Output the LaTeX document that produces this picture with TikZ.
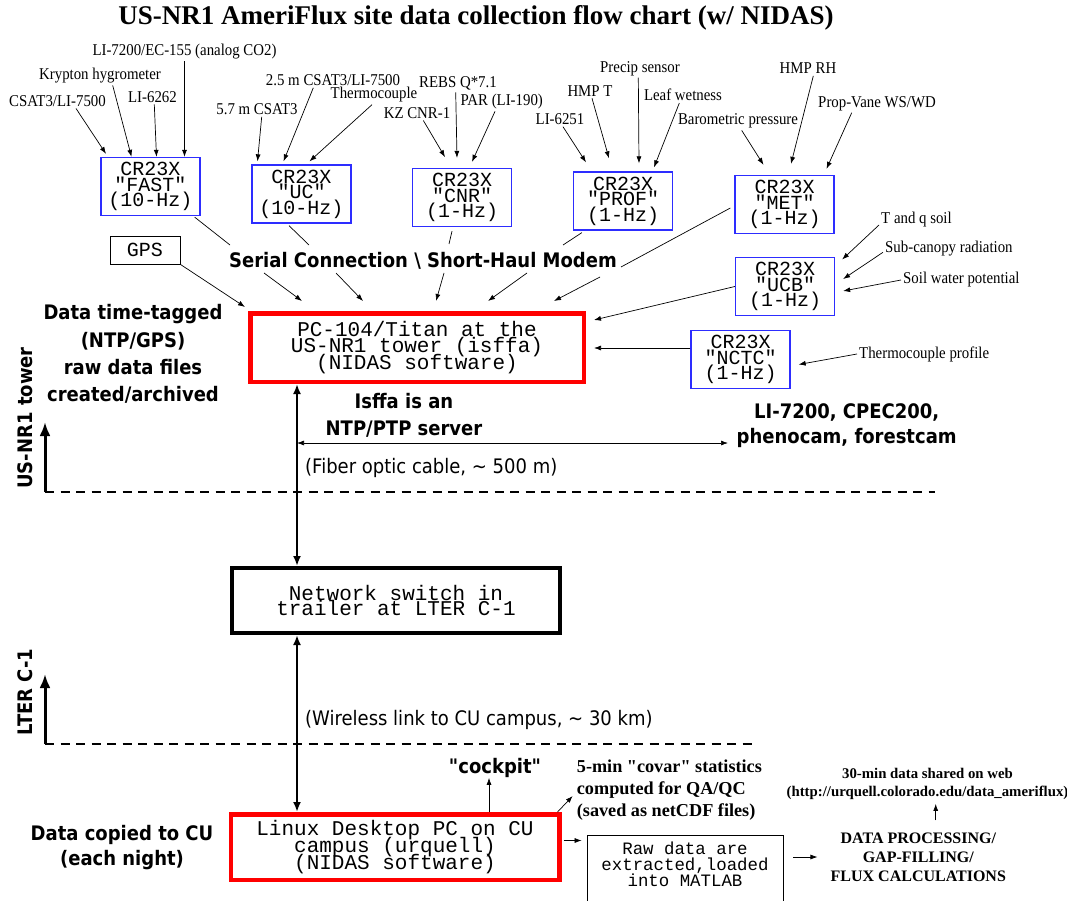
\documentclass[tikz,border=0pt]{standalone}
\usepackage{fontspec}
\setmainfont{Liberation Serif}[Ligatures=TeXOff]
\newfontfamily\boxfont{Liberation Mono}[Ligatures=TeXOff]
\newfontfamily\notefont{DejaVu Sans}[FakeStretch=0.9, Ligatures=TeXOff]
\newfontfamily\sensorfont{Liberation Serif}[FakeStretch=0.9, Ligatures=TeXOff]
\usetikzlibrary{arrows.meta}
\definecolor{loggerblue}{RGB}{45,45,255}

\begin{document}
\lineskiplimit=-30pt
\begin{tikzpicture}[
    x=1pt, y=-1pt,
    logger/.style={rectangle, draw=loggerblue, line width=1.3pt, minimum width=99pt, minimum height=58pt, inner sep=0pt, align=center,
        font=\boxfont\fontsize{20}{15.6}\selectfont},
    hub/.style={rectangle, draw=red, line width=4.5pt, inner sep=0pt, align=center,
        font=\boxfont\fontsize{21}{16.6}\selectfont},
    sensor/.style={font=\sensorfont\fontsize{16.5}{18}\selectfont, inner sep=2pt},
    note/.style={font=\notefont\bfseries\fontsize{20}{27}\selectfont, align=center, inner sep=0pt},
    remark/.style={font=\notefont\fontsize{20}{24}\selectfont, inner sep=0pt},
    feed/.style={-{Latex[length=7pt,width=5pt]}, line width=0.7pt},
    wire/.style={line width=0.7pt},
    link/.style={{Latex[length=10pt,width=8pt]}-{Latex[length=10pt,width=8pt]}, line width=2pt},
    zone/.style={-{Latex[length=14pt,width=11pt]}, line width=3pt},
    divider/.style={line width=2pt, dash pattern=on 9pt off 6.5pt}
]
    \useasboundingbox (0,0) rectangle (1067,901);
    \fill[white] (0,0) rectangle (1067,901);

    % Title
    \node[font=\bfseries\fontsize{27}{30}\selectfont] (title) at (476,18) {US-NR1 AmeriFlux site data collection flow chart (w/ NIDAS)};

    % Data loggers on the tower
    \node[logger] (fast) at (150.5,186.5) {CR23X\\"FAST"\\(10-Hz)};
    \node[logger] (uc) at (301.5,194) {CR23X\\"UC"\\(10-Hz)};
    \node[logger] (cnr) at (462,197.5) {CR23X\\"CNR"\\(1-Hz)};
    \node[logger] (prof) at (623,201) {CR23X\\"PROF"\\(1-Hz)};
    \node[logger] (met) at (784.5,204.5) {CR23X\\"MET"\\(1-Hz)};
    \node[logger] (ucb) at (785,286.5) {CR23X\\"UCB"\\(1-Hz)};
    \node[logger] (nctc) at (740.5,359.5) {CR23X\\"NCTC"\\(1-Hz)};

    % Sensors
    \node[sensor] (csat) at (57.5,100.7) {CSAT3/LI-7500};
    \node[sensor] (krypton) at (100,75.7) {Krypton hygrometer};
    \node[sensor] (li6262) at (152.5,96.7) {LI-6262};
    \node[sensor] (li7200) at (184.5,51.7) {LI-7200/EC-155 (analog CO2)};
    \node[sensor] (csatlow) at (257,109) {5.7 m CSAT3};
    \node[sensor] (csathigh) at (333,80) {2.5 m CSAT3/LI-7500};
    \node[sensor] (tcouple) at (374,95) {Thermocouple};
    \node[sensor] (kzcnr) at (417,112.7) {KZ CNR-1};
    \node[sensor] (rebs) at (458,83.3) {REBS Q*7.1};
    \node[sensor] (par) at (501.7,101.7) {PAR (LI-190)};
    \node[sensor] (li6251) at (560,119) {LI-6251};
    \node[sensor] (hmpt) at (590,90.7) {HMP T};
    \node[sensor] (precip) at (640,68.3) {Precip sensor};
    \node[sensor] (leaf) at (683,95) {Leaf wetness};
    \node[sensor] (baro) at (738,121) {Barometric pressure};
    \node[sensor] (hmprh) at (808,68.3) {HMP RH};
    \node[sensor] (propvane) at (877,103.3) {Prop-Vane WS/WD};
    \node[sensor, anchor=west] (soiltq) at (879,220) {T and q soil};
    \node[sensor, anchor=west] (subcan) at (883,248.3) {Sub-canopy radiation};
    \node[sensor, anchor=west] (soilwp) at (901,280) {Soil water potential};
    \node[sensor, anchor=west] (tprofile) at (857,354) {Thermocouple profile};

    % Sensor leads
    \draw[feed] ([xshift=18.5pt]csat.south) -- ([shift={(-44.5,-3)}]fast.north);
    \draw[feed] ([xshift=12.7pt]krypton.south) -- ([xshift=-19pt]fast.north);
    \draw[feed] ([xshift=1.8pt]li6262.south) -- ([xshift=6pt]fast.north);
    \draw[feed] (li7200.south) -- ([xshift=34pt]fast.north);
    \draw[feed] ([xshift=4.7pt]csatlow.south) -- ([shift={(-44,-3)}]uc.north);
    \draw[feed] ([xshift=-19.7pt]csathigh.south) -- ([shift={(-18,-3)}]uc.north);
    \draw[feed] ([xshift=-2pt]tcouple.south) -- ([shift={(8,-3)}]uc.north);
    \draw[feed] ([xshift=6.3pt]kzcnr.south) -- ([shift={(-17,-10.7)}]cnr.north);
    \draw[feed] ([xshift=-2.3pt]rebs.south) -- ([shift={(-5,-10)}]cnr.north);
    \draw[feed] ([xshift=-6.7pt]par.south) -- ([shift={(10,-6)}]cnr.north);
    \draw[feed] ([xshift=3pt]li6251.south) -- ([shift={(-37,-9)}]prof.north);
    \draw[feed] ([xshift=2pt]hmpt.south) -- ([shift={(-14,-13)}]prof.north);
    \draw[feed] ([xshift=-1.7pt]precip.south) -- ([shift={(16,-8)}]prof.north);
    \draw[feed] ([xshift=-3.7pt]leaf.south) -- ([shift={(31,-4)}]prof.north);
    \draw[feed] ([xshift=3.7pt]baro.south) -- ([shift={(-21,-10)}]met.north);
    \draw[feed] ([xshift=5.3pt]hmprh.south) -- ([shift={(6.5,-11)}]met.north);
    \draw[feed] ([xshift=-25.3pt]propvane.south) -- ([shift={(42,-6)}]met.north);
    \draw[feed] ([yshift=-5pt]soiltq.west) -- ([shift={(7,-27)}]ucb.east);
    \draw[feed] ([yshift=-4pt]subcan.west) -- ([shift={(8,-7.5)}]ucb.east);
    \draw[feed] (soilwp.west) -- ([shift={(8,4.5)}]ucb.east);
    \draw[feed] (tprofile.west) -- ([shift={(8,5)}]nctc.east);

    % Tower computer
    \node[hub, minimum width=333.5pt, minimum height=68.5pt] (tower) at (417,347.5) {PC-104/Titan at the\\US-NR1 tower (isffa)\\(NIDAS software)};
    \node[rectangle, draw, line width=0.8pt, minimum width=70pt, minimum height=28pt, inner sep=0pt,
        font=\boxfont\fontsize{20}{20}\selectfont] (gps) at (145,250) {GPS};

    % Serial links
    \node[note] (serial) at (423,261) {Serial Connection \textbackslash{} Short-Haul Modem};
    \coordinate (tapfast) at (230,245);
    \coordinate (tapuc) at (309,245);
    \coordinate (tapcnr) at (449,244);
    \coordinate (tapprof) at (563,245);
    \coordinate (tapmet) at (621,267);
    \coordinate (out1) at (264,273);
    \coordinate (out2) at (336,273);
    \coordinate (out3) at (444,273);
    \coordinate (out4) at (527,273);
    \coordinate (out5) at (600,277);
    \draw[wire] ([shift={(-6,1)}]fast.south east) -- (tapfast);
    \draw[wire] ([shift={(-12.5,2)}]uc.south) -- (tapuc);
    \draw[wire] ([shift={(-10,4)}]cnr.south) -- (tapcnr);
    \draw[wire] ([shift={(9,2)}]prof.south west) -- (tapprof);
    \draw[wire] ([shift={(-4,3.5)}]met.west) -- (tapmet);
    \draw[feed] (out1) -- ([shift={(-115,-10)}]tower.north);
    \draw[feed] (out2) -- ([shift={(-54,-10)}]tower.north);
    \draw[feed] (out3) -- ([shift={(19,-10)}]tower.north);
    \draw[feed] (out4) -- ([shift={(71,-10)}]tower.north);
    \draw[feed] (out5) -- ([shift={(137,-10)}]tower.north);
    \draw[feed] (gps.south east) -- ([shift={(-3,-4)}]tower.north west);
    \draw[feed] (ucb.west) -- ([shift={(8,9)}]tower.north east);
    \draw[feed] ([yshift=11.5pt]nctc.west) -- ([shift={(8,0.5)}]tower.east);

    % Notes round the tower
    \node[note, font=\notefont\bfseries\fontsize{20}{27.3}\selectfont] (stamp) at (133,354) {Data time-tagged\\(NTP/GPS)\\raw data files\\created/archived};
    \node[note] (ntp) at (404,415.5) {Isffa is an\\NTP/PTP server};
    \node[note, font=\notefont\bfseries\fontsize{20}{25}\selectfont] (cams) at (846.7,425.5) {LI-7200, CPEC200,\\phenocam, forestcam};
    \coordinate (trunk) at (297,443);
    \coordinate (lanend) at (728,443);
    \draw[line width=0.7pt, {Latex[length=7pt,width=5pt]}-{Latex[length=7pt,width=5pt]}] (trunk) -- (lanend);
    \node[remark, anchor=west] (fiber) at (305,468) {(Fiber optic cable, \textasciitilde{} 500 m)};

    % Site boundaries
    \coordinate (towerbase) at (45,492);
    \coordinate (towerline) at (935,492);
    \coordinate (lterbase) at (45,744);
    \coordinate (lterline) at (752,744);
    \draw[divider] (towerbase) -- (towerline);
    \draw[divider] (lterbase) -- (lterline);
    \draw[zone] (towerbase) -- ++(0,-70);
    \draw[zone] (lterbase) -- ++(0,-70);
    \node[note, rotate=90] (towerlbl) at (25,418) {US-NR1 tower};
    \node[note, rotate=90] (lterlbl) at (25,692) {LTER C-1};

    % Network switch
    \node[hub, draw=black, line width=4pt, minimum width=328pt, minimum height=65pt,
        font=\boxfont\fontsize{21}{15.7}\selectfont] (switch) at (396,600.5) {Network switch in\\trailer at LTER C-1};
    \node[remark, anchor=west] (wireless) at (305,720) {(Wireless link to CU campus, \textasciitilde{} 30 km)};

    % CU campus
    \node[hub, minimum width=328.5pt, minimum height=65.5pt,
        font=\boxfont\fontsize{21}{17}\selectfont] (linux) at (395,847) {Linux Desktop PC on CU\\campus (urquell)\\(NIDAS software)};
    \draw[link] (trunk |- tower.south) -- (trunk |- switch.north);
    \draw[link] (trunk |- switch.south) -- (trunk |- linux.north);
    \node[note, font=\notefont\bfseries\fontsize{20}{25}\selectfont] (copied) at (122,847.5) {Data copied to CU\\(each night)};
    \node[note] (cockpit) at (495,768) {"cockpit"};
    \draw[feed] ([xshift=94pt]linux.north) -- ([xshift=94pt]linux.north |- cockpit.south);
    \node[font=\bfseries\fontsize{18.2}{21.7}\selectfont, align=left, anchor=west, inner sep=0pt] (covar) at (576.7,790) {5-min "covar" statistics\\computed for QA/QC\\(saved as netCDF files)};
    \draw[feed] ([xshift=-4pt]linux.north east) -- ([shift={(-4,6)}]covar.west);

    % Processing
    \node[rectangle, draw, line width=0.8pt, minimum width=196pt, minimum height=90pt, inner sep=0pt, align=center,
        font=\boxfont\fontsize{17.4}{16}\selectfont] (raw) at (685,880) {Raw data are\\extracted,loaded\\into MATLAB\\\mbox{}\\\mbox{}};
    \draw[feed, shorten <=2pt, shorten >=5pt] ([yshift=6.5pt]linux.east) -- ([yshift=6.5pt]linux.east -| raw.west);
    \node[font=\bfseries\fontsize{16}{19}\selectfont, align=center, inner sep=0pt] (proc) at (918.3,857) {DATA PROCESSING/\\GAP-FILLING/\\FLUX CALCULATIONS};
    \draw[feed, shorten <=10pt, shorten >=13pt] (raw.east |- proc.west) -- (proc.west);
    \node[font=\bfseries\fontsize{14.8}{18}\selectfont, align=center, inner sep=0pt] (web) at (927.5,784) {30-min data shared on web\\(http://urquell.colorado.edu/data\_ameriflux)};
    \draw[feed, shorten <=12pt, shorten >=4pt] ([xshift=17.4pt]proc.north) -- ([xshift=8.2pt]web.south);
\end{tikzpicture}
\end{document}
